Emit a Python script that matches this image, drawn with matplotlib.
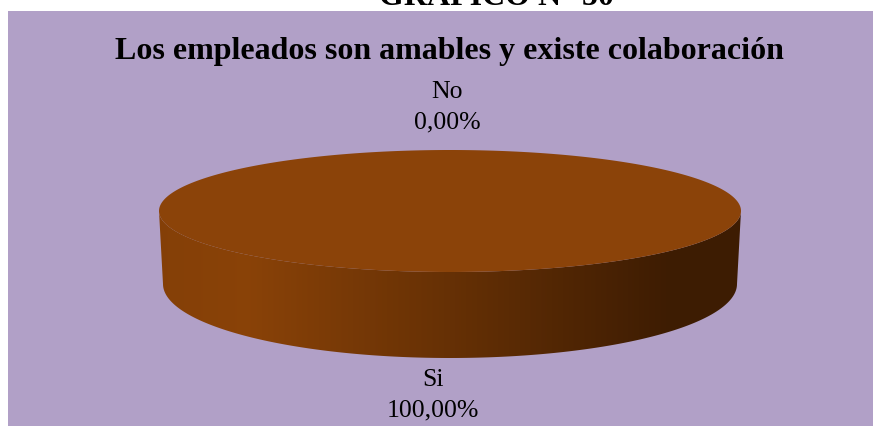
import numpy as np
import matplotlib.pyplot as plt
from matplotlib.patches import Polygon, Rectangle
from matplotlib.colors import LinearSegmentedColormap

# Data
categories = ['Si', 'No']
values = [100.0, 0.0]
percent_labels = ['100,00%', '0,00%']
title = 'Los empleados son amables y existe colaboración'
caption = 'GRÁFICO N° 50'

# Geometry of the 3D pie in pixel units
W, H = 874, 426
cx, cy = 450, 211          # top face centre
a_top, b_top = 291, 61     # top face radii
cy_bot = 284               # bottom rim centre
a_bot, b_bot = 287, 74     # bottom rim radii

bg_color = '#b1a0c7'
top_color = '#8b4309'

plt.rcParams['font.family'] = ['Liberation Serif', 'DejaVu Serif']

fig = plt.figure(figsize=(W / 100, H / 100), dpi=100)
ax = fig.add_axes([0, 0, 1, 1])
ax.set_xlim(0, W)
ax.set_ylim(H, 0)
ax.axis('off')

# chart area
ax.add_patch(Rectangle((8, 11), W - 9, H - 11, facecolor=bg_color,
                       edgecolor='none', zorder=0))

ax.text(496, 5, caption, ha='center', va='baseline', fontsize=23,
        fontweight='bold', color='black')
ax.text(449, 59, title, ha='center', va='baseline', fontsize=23,
        fontweight='bold', color='black')

# side wall: lower half of top rim joined to lower half of bottom rim
t = np.linspace(0, np.pi, 200)
upper = np.column_stack([cx + a_top * np.cos(t), cy + b_top * np.sin(t)])
lower = np.column_stack([cx + a_bot * np.cos(t[::-1]), cy_bot + b_bot * np.sin(t[::-1])])
side = Polygon(np.vstack([upper, lower]), closed=True, facecolor='none',
               edgecolor='none', zorder=2)
ax.add_patch(side)

shade = LinearSegmentedColormap.from_list('side', [
    (0.00, (0.52, 0.25, 0.03)),
    (0.15, (0.54, 0.26, 0.03)),
    (0.50, (0.40, 0.19, 0.02)),
    (0.88, (0.24, 0.11, 0.01)),
    (1.00, (0.24, 0.11, 0.01)),
])
grad = np.linspace(0, 1, 256).reshape(1, -1)
img = ax.imshow(grad, cmap=shade, aspect='auto', zorder=2,
                extent=(cx - a_top, cx + a_top, cy_bot + b_bot + 2, cy - 2))
img.set_clip_path(side)

# top face: one wedge per category, clockwise from 12 o'clock
total = sum(values)
start = 0.0
mids = []
for val in values:
    frac = val / total
    sweep = 360.0 * frac
    mids.append(start + sweep / 2)
    if frac > 0:
        ang = np.radians(90 - np.linspace(start, start + sweep, 300))
        pts = np.column_stack([cx + a_top * np.cos(ang), cy - b_top * np.sin(ang)])
        if frac < 1:
            pts = np.vstack([[cx, cy], pts])
        ax.add_patch(Polygon(pts, closed=True, facecolor=top_color,
                             edgecolor='none', zorder=3))
    start += sweep

# data labels outside the pie, placed by each slice's mid-angle
for cat, pct, mid in zip(categories, percent_labels, mids):
    r = np.radians(90 - mid)
    x = cx + a_top * np.cos(r) * 1.05
    if np.sin(r) >= 0:
        y = cy - b_top * np.sin(r) - 28
        x -= 3
    else:
        y = cy_bot - b_bot * np.sin(r) + 52
        x -= 17
    ax.text(x, y - 30, cat, ha='center', va='center', fontsize=18.5)
    ax.text(x, y, pct, ha='center', va='center', fontsize=18.5)

fig.savefig('out.png', dpi=100, facecolor='white')
